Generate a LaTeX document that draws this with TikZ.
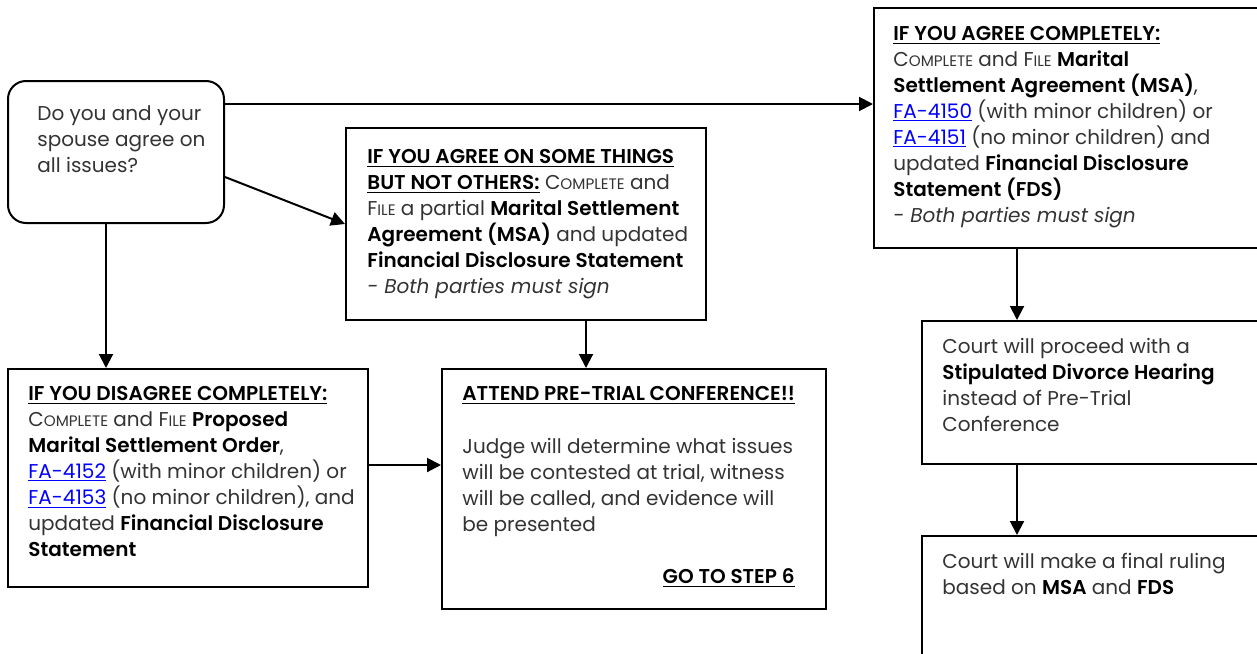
\documentclass[tikz,border=0pt]{standalone}
\usepackage{fontspec}
\setmainfont{Poppins}[BoldFont={Poppins SemiBold}]
\usetikzlibrary{arrows.meta,calc}
\definecolor{txt}{HTML}{333333}
\definecolor{lnk}{HTML}{0000FF}
\newcommand\fsc[2]{#1{\fontsize{7.6}{13}\selectfont #2}}
\newcommand\hd[1]{\textcolor{black}{\bfseries\underline{#1}}}
\newcommand\bd[1]{\textcolor{black}{\bfseries #1}}
\newcommand\lk[1]{\textcolor{lnk}{\underline{#1}}}
\tikzset{
  box/.style={draw=black, line width=1pt, inner sep=0pt, anchor=north west},
  txtnode/.style={anchor=base west, align=left, inner sep=0pt, text=txt, font=\fontsize{10}{13}\selectfont},
  arr/.style={draw=black, line width=1pt, -{Triangle[length=7pt,width=7pt]}}
}
\begin{document}
\begin{tikzpicture}[x=0.5pt,y=-0.5pt]
\useasboundingbox (0,0) rectangle (1257,653);
\clip (0,0) rectangle (1257,653);
% boxes
\node[box, rounded corners=9pt, minimum width=108pt, minimum height=71pt] (q) at (7,80) {};
\node[box, minimum width=180pt, minimum height=96pt] (part) at (345,127) {};
\node[box, minimum width=196pt, minimum height=120pt] (agree) at (873,7) {};
\node[box, minimum width=180pt, minimum height=109pt] (dis) at (7,368) {};
\node[box, minimum width=192pt, minimum height=120pt] (pre) at (441,368) {};
\node[box, minimum width=172pt, minimum height=71.5pt] (stip) at (921,320) {};
\node[box, minimum width=172pt, minimum height=82.5pt] (fin) at (921,535) {};
% texts (anchored at the baseline of the last line)
\node[txtnode] (tq) at (37,172) {Do you and your\\spouse agree on\\all issues?};
\node[txtnode] (tpart) at (367,293) {\hd{IF YOU AGREE ON SOME THINGS}\\
\hd{BUT NOT OTHERS:} \fsc{C}{OMPLETE} and\\
\fsc{F}{ILE} a partial \bd{Marital Settlement}\\
\bd{Agreement (MSA)} and updated\\
\bd{Financial Disclosure Statement}\\
\textit{- Both parties must sign}};
\node[txtnode] (tagree) at (893,222) {\hd{IF YOU AGREE COMPLETELY:}\\
\fsc{C}{OMPLETE} and \fsc{F}{ILE} \bd{Marital}\\
\bd{Settlement Agreement (MSA)},\\
\lk{FA-4150} (with minor children) or\\
\lk{FA-4151} (no minor children) and\\
updated \bd{Financial Disclosure}\\
\bd{Statement (FDS)}\\
\textit{- Both parties must sign}};
\node[txtnode] (tdis) at (28,556) {\hd{IF YOU DISAGREE COMPLETELY:}\\
\fsc{C}{OMPLETE} and \fsc{F}{ILE} \bd{Proposed}\\
\bd{Marital Settlement Order},\\
\lk{FA-4152} (with minor children) or\\
\lk{FA-4153} (no minor children), and\\
updated \bd{Financial Disclosure}\\
\bd{Statement}};
\node[txtnode] (tpreh) at (462,400) {\hd{ATTEND PRE-TRIAL CONFERENCE!!}};
\node[txtnode] (tpreb) at (462,531) {Judge will determine what issues\\
will be contested at trial, witness\\
will be called, and evidence will\\
be presented};
\node[txtnode, anchor=base east] (tgo) at (795,583) {\hd{GO TO STEP 6}};
\node[txtnode] (tstip) at (942,431) {Court will proceed with a\\
\bd{Stipulated Divorce Hearing}\\
instead of Pre-Trial\\
Conference};
\node[txtnode] (tfin) at (942,594) {Court will make a final ruling\\
based on \bd{MSA} and \bd{FDS}};
% connectors
\coordinate (h1) at ($(q.north east)+(0,24)$);
\draw[arr] (h1) -- (h1 -| agree.west);
\draw[arr] ($(q.north east)+(0,97)$) -- (part.west);
\draw[arr] ([xshift=-5pt]q.south) -- ([xshift=-5pt]q.south |- dis.north);
\draw[arr] ([xshift=30pt]part.south) -- ([xshift=30pt]part.south |- pre.north);
\draw[arr] ([yshift=6.5pt]dis.east) -- ([yshift=6.5pt]dis.east -| pre.west);
\draw[arr] ([xshift=72pt]agree.south west) -- ([xshift=72pt]agree.south west |- stip.north);
\draw[arr] ([xshift=48pt]stip.south west) -- ([xshift=48pt]stip.south west |- fin.north);
\end{tikzpicture}
\end{document}
